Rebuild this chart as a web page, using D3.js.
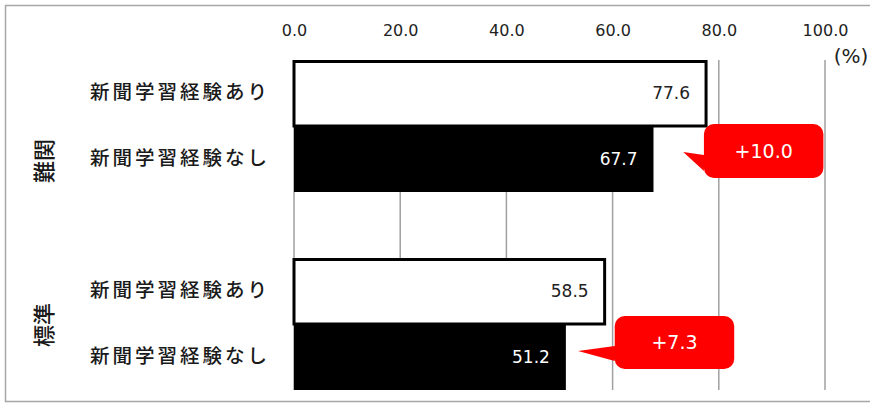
<!DOCTYPE html>
<html>
<head>
<meta charset="utf-8">
<script src="https://cdn.jsdelivr.net/npm/d3@7/dist/d3.min.js"></script>
<style>
  html, body { margin: 0; padding: 0; background: #fff; }
  svg { display: block; }
  text { font-family: "Noto Sans CJK JP", "Noto Sans", sans-serif; }
  .num { font-family: "DejaVu Sans", sans-serif; }
</style>
</head>
<body>
<svg id="chart" width="870" height="405"></svg>
<script>
// Share of students (%) by school level and newspaper-study experience
const groups = ["難関", "標準"];
const categories = ["新聞学習経験あり", "新聞学習経験なし"];
const withExperience = [77.6, 58.5];
const withoutExperience = [67.7, 51.2];
const gapLabels = ["+10.0", "+7.3"];
const xTicks = [0, 20, 40, 60, 80, 100];

const svg = d3.select("#chart");
const W = 870, H = 405;

// outer frame
svg.append("rect")
  .attr("x", 5.5).attr("y", 5.5)
  .attr("width", W).attr("height", 396)
  .attr("fill", "#fff").attr("stroke", "#a6a6a6").attr("stroke-width", 1.5);

const plot = { left: 294, right: 825, top: 60, bottom: 390 };

const x = d3.scaleLinear().domain([0, 100]).range([plot.left, plot.right]);

// one row per bar, with an empty row separating the two groups
const rows = [];
groups.forEach((g, gi) => {
  if (gi > 0) rows.push({ key: "spacer-" + gi, spacer: true });
  rows.push({ key: g + "-0", group: g, gi, label: categories[0], value: withExperience[gi], filled: false });
  rows.push({ key: g + "-1", group: g, gi, label: categories[1], value: withoutExperience[gi], filled: true });
});

const y = d3.scaleBand()
  .domain(rows.map(r => r.key))
  .range([plot.top, plot.bottom])
  .padding(0);

// vertical gridlines
svg.append("g")
  .selectAll("line")
  .data(xTicks)
  .join("line")
  .attr("x1", d => x(d)).attr("x2", d => x(d))
  .attr("y1", plot.top).attr("y2", plot.bottom)
  .attr("stroke", "#a0a0a0").attr("stroke-width", 1.5);

// tick labels along the top
const axis = svg.append("g")
  .attr("transform", `translate(0,${plot.top})`)
  .call(d3.axisTop(x).tickValues(xTicks).tickFormat(d3.format(".1f")).tickSize(0).tickPadding(24));
axis.select(".domain").remove();
axis.selectAll("text")
  .attr("class", "num")
  .attr("font-size", 16)
  .attr("fill", "#222")
  .style("font-family", '"DejaVu Sans", sans-serif');

svg.append("text")
  .attr("class", "num")
  .attr("x", 851).attr("y", 63)
  .attr("text-anchor", "middle")
  .attr("font-size", 20).attr("fill", "#222")
  .text("(%)");

const barRows = rows.filter(r => !r.spacer);

// bars
svg.append("g")
  .selectAll("rect")
  .data(barRows)
  .join("rect")
  .attr("x", x(0))
  .attr("y", d => y(d.key) + (d.filled ? 0 : 1.5))
  .attr("width", d => x(d.value) - x(0))
  .attr("height", d => y.bandwidth() - (d.filled ? 0 : 1.5))
  .attr("fill", d => d.filled ? "#000" : "#fff")
  .attr("stroke", "#000")
  .attr("stroke-width", d => d.filled ? 0 : 3);

// value labels inside the bar ends
svg.append("g")
  .selectAll("text")
  .data(barRows)
  .join("text")
  .attr("class", "num")
  .attr("x", d => x(d.value) - 16)
  .attr("y", d => y(d.key) + y.bandwidth() / 2 + 1)
  .attr("text-anchor", "end")
  .attr("dominant-baseline", "middle")
  .attr("font-size", 17)
  .attr("fill", d => d.filled ? "#fff" : "#222")
  .text(d => d.value.toFixed(1));

// category labels
svg.append("g")
  .selectAll("text")
  .data(barRows)
  .join("text")
  .attr("x", 270)
  .attr("y", d => y(d.key) + y.bandwidth() / 2 + 1)
  .attr("text-anchor", "end")
  .attr("dominant-baseline", "middle")
  .attr("font-size", 19.5)
  .attr("font-weight", 500)
  .attr("letter-spacing", 3)
  .attr("fill", "#1a1a1a")
  .text(d => d.label);

// group labels, rotated
const groupOffset = [35, 1];
svg.append("g")
  .selectAll("text")
  .data(groups)
  .join("text")
  .attr("transform", (g, i) => {
    const cy = y(g + "-1") + groupOffset[i];
    return `translate(46,${cy}) rotate(-90)`;
  })
  .attr("text-anchor", "middle")
  .attr("dominant-baseline", "middle")
  .attr("font-size", 22)
  .attr("font-weight", 500)
  .attr("fill", "#1a1a1a")
  .text(g => g);

// difference callouts: rounded box with a pointer toward the unfilled gap
const callouts = [
  { box: [77.2, 99.7], top: 124, bottom: 178, tip: [73.3, 152], base: [155, 171] },
  { box: [60.4, 82.9], top: 316, bottom: 369, tip: [53.5, 351], base: [346, 361] }
];
const r = 10;
callouts.forEach((c, i) => {
  const x0 = x(c.box[0]), x1 = x(c.box[1]);
  const t = c.top, b = c.bottom;
  const tx = x(c.tip[0]), ty = c.tip[1];
  const p = d3.path();
  p.moveTo(x0 + r, t);
  p.lineTo(x1 - r, t);
  p.arcTo(x1, t, x1, t + r, r);
  p.lineTo(x1, b - r);
  p.arcTo(x1, b, x1 - r, b, r);
  p.lineTo(x0 + r, b);
  p.arcTo(x0, b, x0, b - r, r);
  p.lineTo(x0, c.base[1]);
  p.lineTo(tx, ty);
  p.lineTo(x0, c.base[0]);
  p.lineTo(x0, t + r);
  p.arcTo(x0, t, x0 + r, t, r);
  p.closePath();
  svg.append("path").attr("d", p.toString()).attr("fill", "#ff0000");
  svg.append("text")
    .attr("class", "num")
    .attr("x", (x0 + x1) / 2)
    .attr("y", (t + b) / 2 + 1)
    .attr("text-anchor", "middle")
    .attr("dominant-baseline", "middle")
    .attr("font-size", 19)
    .attr("fill", "#fff")
    .text(gapLabels[i]);
});
</script>
</body>
</html>
